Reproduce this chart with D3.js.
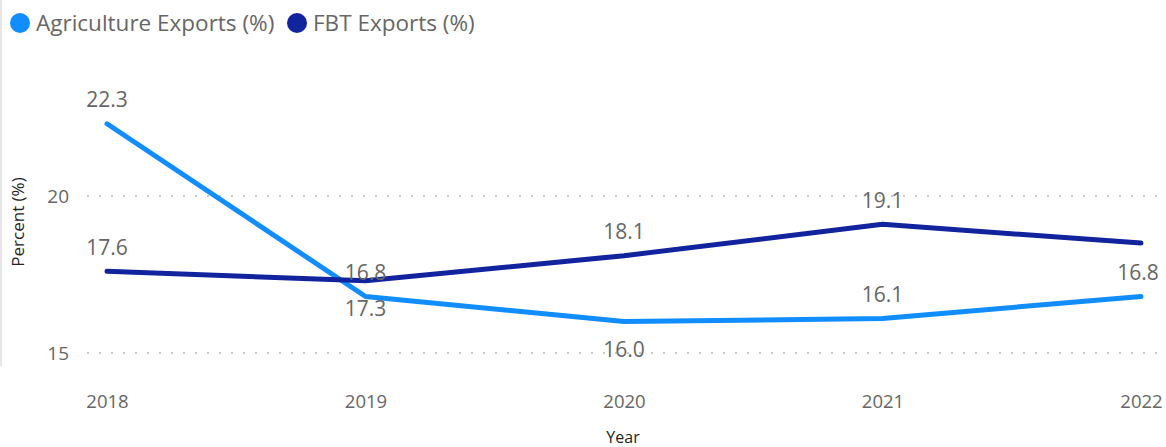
<!DOCTYPE html>
<html>
<head>
<meta charset="utf-8">
<script src="https://cdn.jsdelivr.net/npm/d3@7"></script>
<style>
  html, body { margin: 0; padding: 0; background: #fff; }
  svg { display: block; font-family: "Segoe UI", "Open Sans", "Noto Sans", sans-serif; }
</style>
</head>
<body>
<svg id="chart" width="1166" height="447"></svg>
<script>
// Export shares by year
const years = ["2018", "2019", "2020", "2021", "2022"];
const agricultureExports = [22.3, 16.8, 16.0, 16.1, 16.8];
const fbtExports = [17.6, 17.3, 18.1, 19.1, 18.5];
// Where each data label sits relative to its point (null = not shown)
const agricultureLabelSide = ["above", "above", "below", "above", "above"];
const fbtLabelSide = ["above", "below", "above", "above", null];
const yTicks = [15, 20];
const seriesNames = ["Agriculture Exports (%)", "FBT Exports (%)"];
const seriesColors = ["#118DFF", "#12239E"];

const svg = d3.select("#chart");

// Left panel edge
svg.append("rect").attr("x", 0).attr("y", 0).attr("width", 2).attr("height", 366).attr("fill", "#e6e6e6");

const x = d3.scalePoint().domain(years).range([107, 1141]);
const y = d3.scaleLinear().domain([15, 20]).range([353, 196]);

// Gridlines (dotted)
const grid = svg.append("g");
yTicks.forEach(t => {
  grid.append("line")
    .attr("x1", 87).attr("x2", 1160)
    .attr("y1", y(t)).attr("y2", y(t))
    .attr("stroke", "#c8c8c8").attr("stroke-width", 2)
    .attr("stroke-dasharray", "2,10");
});

// Y axis tick labels
const yAxis = d3.axisLeft(y).tickValues(yTicks).tickFormat(d3.format("d")).tickSize(0).tickPadding(0);
const gy = svg.append("g").attr("transform", "translate(69,0)").call(yAxis);
gy.select(".domain").remove();
gy.selectAll("text").attr("font-size", 19).attr("fill", "#666666")
  .attr("font-family", "\"Segoe UI\", \"Open Sans\", sans-serif");

// X axis tick labels
const xAxis = d3.axisBottom(x).tickSize(0).tickPadding(0);
const gx = svg.append("g").attr("transform", "translate(0,395)").call(xAxis);
gx.select(".domain").remove();
gx.selectAll("text").attr("font-size", 18.5).attr("fill", "#666666")
  .attr("font-family", "\"Segoe UI\", \"Open Sans\", sans-serif");

// Axis titles
svg.append("text")
  .attr("transform", "translate(24,222) rotate(-90)")
  .attr("text-anchor", "middle")
  .attr("font-size", 17).attr("fill", "#252423")
  .text("Percent (%)");
svg.append("text")
  .attr("x", 623).attr("y", 443)
  .attr("text-anchor", "middle")
  .attr("font-size", 16).attr("fill", "#252423")
  .text("Year");

// Lines
const line = d3.line().x((d, i) => x(years[i])).y(d => y(d));
const series = [agricultureExports, fbtExports];
series.forEach((vals, si) => {
  svg.append("path")
    .datum(vals)
    .attr("d", line)
    .attr("fill", "none")
    .attr("stroke", seriesColors[si])
    .attr("stroke-width", 5)
    .attr("stroke-linecap", "round")
    .attr("stroke-linejoin", "round");
});

// Data labels
const sides = [agricultureLabelSide, fbtLabelSide];
series.forEach((vals, si) => {
  vals.forEach((v, i) => {
    const side = sides[si][i];
    if (!side) return;
    const cy = y(v) + (side === "above" ? -24 : 28);
    svg.append("text")
      .attr("x", x(years[i]) + (i === years.length - 1 ? -3 : 0))
      .attr("y", cy)
      .attr("dy", "0.35em")
      .attr("text-anchor", "middle")
      .attr("font-size", 21).attr("fill", "#666666")
      .text(v.toFixed(1));
  });
});

// Legend
const legend = svg.append("g");
const legendX = [20, 297];
seriesNames.forEach((name, i) => {
  legend.append("circle").attr("cx", legendX[i]).attr("cy", 23).attr("r", 10).attr("fill", seriesColors[i]);
  legend.append("text")
    .attr("x", legendX[i] + 16).attr("y", 23).attr("dy", "0.35em")
    .attr("font-size", 22.5).attr("fill", "#666666")
    .text(name);
});
</script>
</body>
</html>
